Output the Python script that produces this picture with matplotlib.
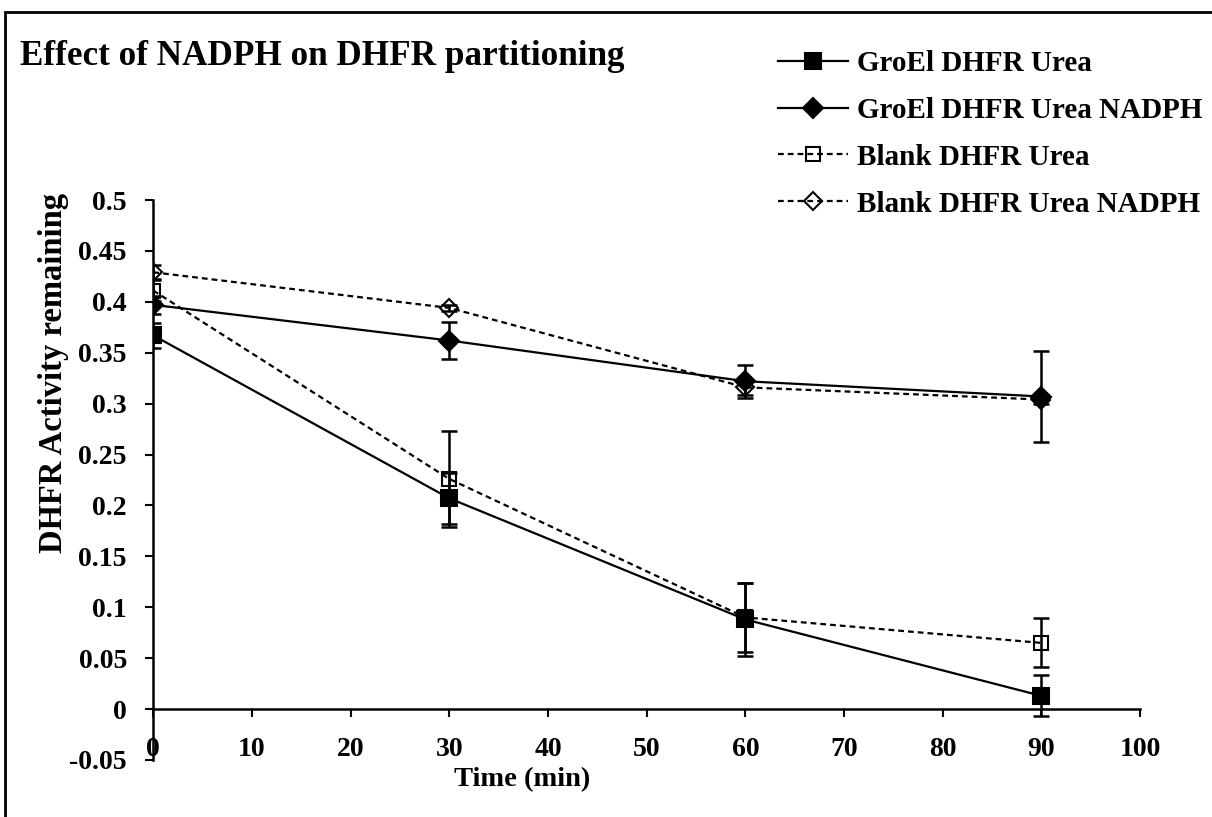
import numpy as np
import matplotlib.pyplot as plt
from matplotlib.patches import Rectangle
from matplotlib.ticker import FuncFormatter, MultipleLocator

time = [0, 30, 60, 90]
groel_urea = [0.367, 0.207, 0.088, 0.013]
groel_urea_err = [0.012, 0.025, 0.036, 0.020]
groel_nadph = [0.397, 0.362, 0.322, 0.307]
groel_nadph_err = [0.009, 0.018, 0.016, 0.045]
blank_urea = [0.411, 0.226, 0.090, 0.065]
blank_urea_err = [0.010, 0.047, 0.034, 0.024]
blank_nadph = [0.429, 0.394, 0.316, 0.304]
blank_nadph_err = [0.007, 0.003, 0.008, 0.004]

labels = ['GroEl DHFR Urea', 'GroEl DHFR Urea NADPH',
          'Blank DHFR Urea', 'Blank DHFR Urea NADPH']

plt.rcParams['font.family'] = ['Liberation Serif', 'DejaVu Serif']
plt.rcParams['font.weight'] = 'bold'

fig = plt.figure(figsize=(12.12, 8.17), dpi=100)
ax = fig.add_axes([0.1265, 0.0698, 0.8141, 0.6854])

dash = (0, (2.6, 1.8))
series = [
    (groel_urea, groel_urea_err, 's', 'black', '-', 12),
    (groel_nadph, groel_nadph_err, 'D', 'black', '-', 10),
    (blank_urea, blank_urea_err, 's', 'none', dash, 10),
    (blank_nadph, blank_nadph_err, 'D', 'none', dash, 9),
]
for (vals, err, mk, fc, ls, ms), lab in zip(series, labels):
    ax.errorbar(time, vals, yerr=err, fmt='none', ecolor='black',
                elinewidth=1.8, capsize=6, capthick=1.8, zorder=2)
    ax.plot(time, vals, color='black', lw=1.6, ls=ls, marker=mk,
            markersize=ms, markerfacecolor=fc, markeredgecolor='black',
            markeredgewidth=1.5, label=lab, zorder=3)

ax.set_xlim(0, 100)
ax.set_ylim(-0.05, 0.5)
ax.xaxis.set_major_locator(MultipleLocator(10))
ax.yaxis.set_major_locator(MultipleLocator(0.05))
ax.yaxis.set_major_formatter(FuncFormatter(lambda v, p: '%g' % round(v, 2)))

for s in ['top', 'right']:
    ax.spines[s].set_visible(False)
ax.spines['bottom'].set_position(('data', 0))
for s in ['left', 'bottom']:
    ax.spines[s].set_linewidth(1.8)
ax.tick_params(axis='both', direction='out', width=1.5, length=6,
               labelsize=20)
ax.tick_params(axis='x', pad=14)
ax.tick_params(axis='y', pad=13)
ax.patch.set_visible(False)

ax.set_xlabel('Time (min)', fontsize=20.5, fontweight='bold')
ax.xaxis.set_label_coords(0.374, -0.0125)
ax.set_ylabel('DHFR Activity remaining', fontsize=23.5, fontweight='bold')
ax.yaxis.set_label_coords(-0.085, 0.691)

fig.text(20 / 1212, 1 - 65 / 817, 'Effect of NADPH on DHFR partitioning',
         fontsize=25.3, fontweight='bold', ha='left', va='baseline')

fig.legend(loc='upper left', bbox_to_anchor=(778 / 1212, 1 - 50 / 817),
           frameon=False, fontsize=21, handlelength=2.4, handletextpad=0.3,
           labelspacing=0.68, borderpad=0, borderaxespad=0)

fig.patches.append(Rectangle((5 / 1212, -0.05), 1.2, 1 - 12 / 817 + 0.05,
                             transform=fig.transFigure, fill=False,
                             edgecolor='black', lw=2))

fig.savefig('out.png', dpi=100)
